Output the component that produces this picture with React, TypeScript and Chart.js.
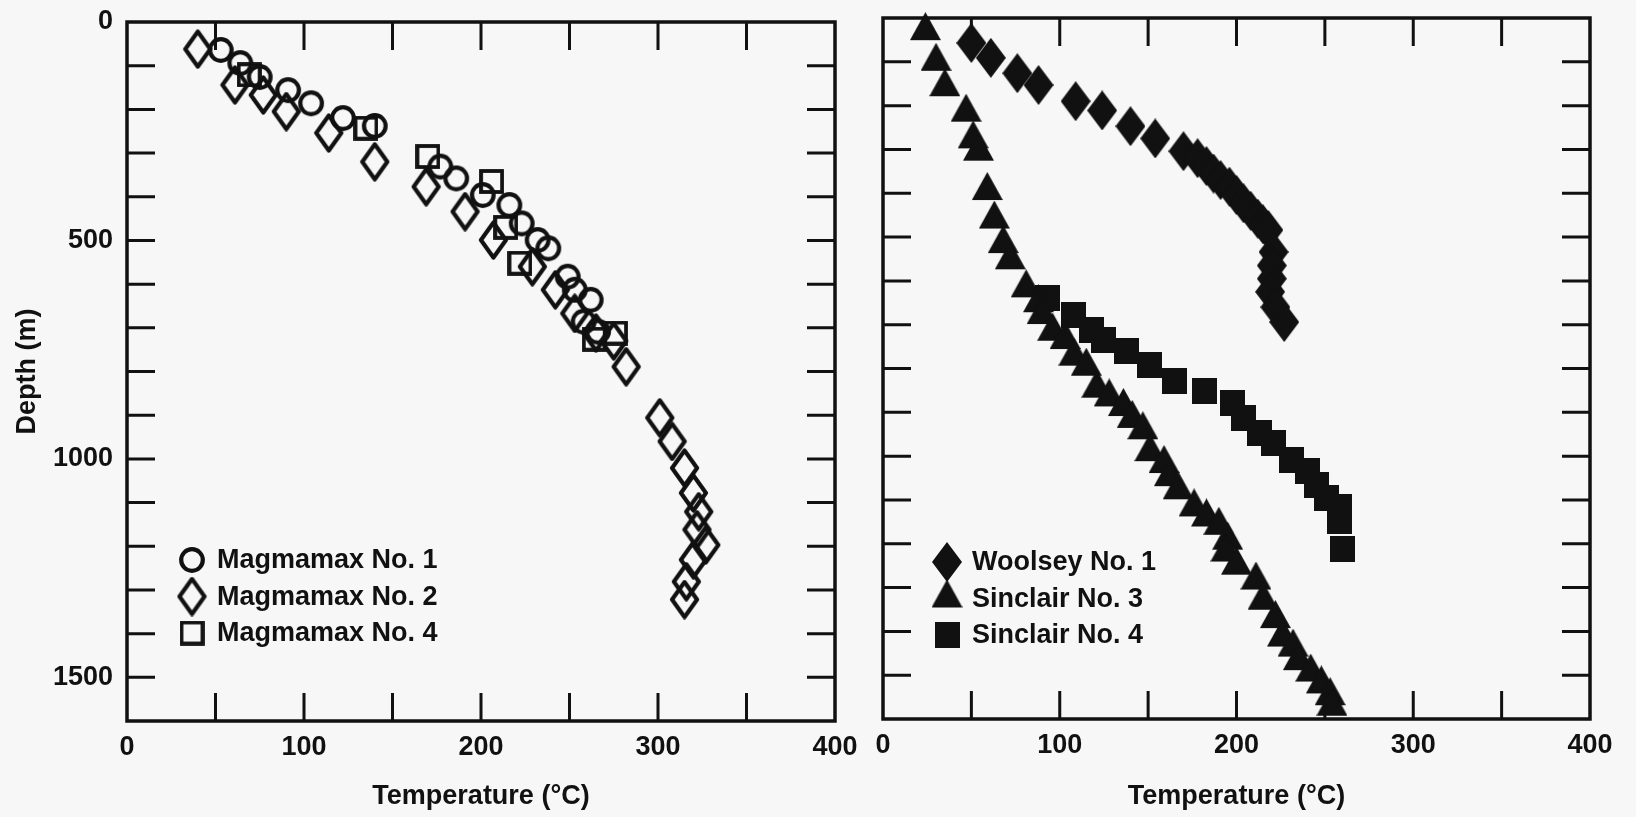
import React, { useEffect, useRef } from "react";
import { Chart, registerables } from "chart.js";

Chart.register(...registerables);

// ---------------- data ----------------
const temperatureTickLabels = [0, 100, 200, 300, 400];
const depthTickLabels = [0, 500, 1000, 1500];
const temperatureTickMarks = [50, 100, 150, 200, 250, 300, 350];
const depthTickMarks = [100, 200, 300, 400, 500, 600, 700, 800, 900, 1000, 1100, 1200, 1300, 1400, 1500];

const magmamax1Temp = [53, 64, 75, 91, 104, 122, 140, 177, 186, 201, 216, 223, 232, 238, 249, 253, 262, 258, 266];
const magmamax1Depth = [64, 94, 126, 156, 186, 220, 238, 331, 358, 396, 419, 461, 499, 518, 583, 613, 636, 686, 709];

const magmamax2Temp = [40, 61, 77, 90, 114, 140, 169, 191, 207, 229, 242, 253, 265, 275, 282, 301, 308, 315, 320, 323, 322, 327, 320, 316, 315];
const magmamax2Depth = [62, 144, 167, 205, 254, 320, 377, 434, 499, 560, 613, 667, 712, 730, 789, 906, 960, 1021, 1078, 1121, 1162, 1197, 1231, 1281, 1322];

const magmamax4Temp = [69, 135, 170, 206, 214, 222, 264, 276];
const magmamax4Depth = [121, 243, 308, 365, 470, 552, 726, 712];

const woolsey1Temp = [50, 61, 76, 88, 109, 124, 140, 154, 170, 178, 183, 187, 191, 196, 200, 204, 208, 212, 215, 218, 221, 220, 220, 219, 222, 227];
const woolsey1Depth = [57, 91, 126, 153, 190, 211, 247, 275, 304, 320, 338, 355, 370, 385, 404, 423, 440, 458, 471, 484, 534, 565, 595, 625, 660, 694];

const sinclair3Temp = [24, 30, 35, 47, 51, 54, 59, 63, 68, 72, 81, 88, 90, 96, 103, 108, 115, 121, 128, 136, 141, 147, 151, 159, 162, 167, 176, 183, 190, 195, 194, 200, 211, 215, 222, 226, 232, 235, 242, 248, 253, 254];
const sinclair3Depth = [30, 100, 158, 216, 277, 305, 395, 460, 516, 553, 617, 651, 678, 716, 735, 773, 796, 846, 866, 888, 915, 941, 991, 1018, 1048, 1078, 1117, 1140, 1159, 1193, 1220, 1250, 1284, 1330, 1372, 1414, 1437, 1468, 1494, 1521, 1548, 1572];

const sinclair4Temp = [93, 108, 118, 125, 138, 151, 165, 182, 198, 204, 213, 221, 231, 240, 245, 251, 258, 258, 260];
const sinclair4Depth = [639, 677, 711, 734, 760, 791, 829, 852, 879, 913, 947, 970, 1008, 1035, 1066, 1095, 1115, 1148, 1211];

const leftLabels = ["Magmamax No. 1", "Magmamax No. 2", "Magmamax No. 4"];
const rightLabels = ["Woolsey No. 1", "Sinclair No. 3", "Sinclair No. 4"];

const xTitle = "Temperature (°C)";
const yTitle = "Depth (m)";

// ---------------- styling ----------------
const INK = "#111111";
const BG = "#f7f7f7";
const FONT = "'Liberation Sans', Arial, Helvetica, sans-serif";

function markerCanvas(w: number, h: number, draw: (ctx: CanvasRenderingContext2D) => void) {
  const c = document.createElement("canvas");
  c.width = w;
  c.height = h;
  const ctx = c.getContext("2d") as CanvasRenderingContext2D;
  ctx.strokeStyle = INK;
  ctx.fillStyle = INK;
  draw(ctx);
  return c;
}

function makeMarkers() {
  const openCircle = markerCanvas(28, 28, (ctx) => {
    ctx.lineWidth = 4.2;
    ctx.beginPath();
    ctx.arc(14, 14, 10.8, 0, Math.PI * 2);
    ctx.stroke();
  });
  const openDiamond = markerCanvas(31, 40, (ctx) => {
    ctx.lineWidth = 4.2;
    ctx.lineJoin = "round";
    ctx.beginPath();
    ctx.moveTo(15.5, 2.5);
    ctx.lineTo(28, 20);
    ctx.lineTo(15.5, 37.5);
    ctx.lineTo(3, 20);
    ctx.closePath();
    ctx.stroke();
  });
  const openSquare = markerCanvas(25, 25, (ctx) => {
    ctx.lineWidth = 3.8;
    ctx.strokeRect(2, 2, 21, 21);
  });
  const filledDiamond = markerCanvas(30, 40, (ctx) => {
    ctx.beginPath();
    ctx.moveTo(15, 0);
    ctx.lineTo(30, 20);
    ctx.lineTo(15, 40);
    ctx.lineTo(0, 20);
    ctx.closePath();
    ctx.fill();
  });
  const filledTriangle = markerCanvas(31, 38, (ctx) => {
    ctx.beginPath();
    ctx.moveTo(15.5, 0);
    ctx.lineTo(31, 28);
    ctx.lineTo(0, 28);
    ctx.closePath();
    ctx.fill();
  });
  const filledSquare = markerCanvas(25, 26, (ctx) => {
    ctx.fillRect(0, 0, 25, 26);
  });
  return { openCircle, openDiamond, openSquare, filledDiamond, filledTriangle, filledSquare };
}

const framePlugin = {
  id: "frameTicks",
  afterDatasetsDraw(chart: any, _args: any, opts: any) {
    const { ctx, chartArea } = chart;
    const { left, right, top, bottom } = chartArea;
    const xs = chart.scales.x;
    const ys = chart.scales.y;
    const len = opts.length || 28;
    ctx.save();
    ctx.strokeStyle = INK;
    ctx.lineWidth = 3.5;
    ctx.lineCap = "square";
    ctx.strokeRect(left, top, right - left, bottom - top);
    ctx.lineWidth = 3;
    ctx.lineCap = "butt";
    ctx.beginPath();
    for (const v of temperatureTickMarks) {
      const px = xs.getPixelForValue(v);
      ctx.moveTo(px, top);
      ctx.lineTo(px, top + len);
      ctx.moveTo(px, bottom);
      ctx.lineTo(px, bottom - len);
    }
    for (const v of depthTickMarks) {
      const py = ys.getPixelForValue(v);
      ctx.moveTo(left, py);
      ctx.lineTo(left + len, py);
      ctx.moveTo(right, py);
      ctx.lineTo(right - len, py);
    }
    ctx.stroke();
    ctx.restore();
  },
};

const insetLegendPlugin = {
  id: "insetLegend",
  afterDraw(chart: any, _args: any, opts: any) {
    const { ctx } = chart;
    ctx.save();
    ctx.fillStyle = INK;
    ctx.font = `bold 27px ${FONT}`;
    ctx.textAlign = "left";
    ctx.textBaseline = "middle";
    chart.data.datasets.forEach((ds: any, i: number) => {
      const cy = opts.y + i * opts.rowHeight;
      const img = ds.pointStyle as HTMLCanvasElement;
      ctx.drawImage(img, opts.x - img.width / 2, cy - img.height / 2);
      ctx.fillText(ds.label, opts.x + opts.textOffset, cy + 1);
    });
    ctx.restore();
  },
};

function pairs(xs: number[], ys: number[]) {
  return xs.map((x, i) => ({ x, y: ys[i] }));
}

function zeroPadding(s: any) {
  s.paddingTop = 0;
  s.paddingBottom = 0;
  s.paddingLeft = 0;
  s.paddingRight = 0;
}

function buildConfig(
  datasets: any[],
  geom: { padTop: number; padRight: number; yWidth: number; xHeight: number; showY: boolean },
  legend: { x: number; y: number; rowHeight: number; textOffset: number }
): any {
  return {
    type: "scatter",
    data: { datasets },
    plugins: [framePlugin, insetLegendPlugin],
    options: {
      responsive: false,
      animation: false,
      events: [],
      layout: { padding: { top: geom.padTop, right: geom.padRight, left: 0, bottom: 0 } },
      plugins: {
        legend: { display: false },
        tooltip: { enabled: false },
        frameTicks: { length: 28 },
        insetLegend: legend,
      },
      scales: {
        x: {
          type: "linear",
          position: "bottom",
          min: 0,
          max: 400,
          afterBuildTicks: (s: any) => {
            s.ticks = temperatureTickLabels.map((v) => ({ value: v }));
          },
          afterFit: (s: any) => {
            s.height = geom.xHeight;
            zeroPadding(s);
          },
          grid: { display: false, drawTicks: false },
          border: { display: false },
          ticks: {
            color: INK,
            padding: 10,
            maxRotation: 0,
            autoSkip: false,
            callback: (v: any) => String(v),
            font: { family: FONT, size: 27, weight: "bold" },
          },
          title: {
            display: true,
            text: xTitle,
            color: INK,
            padding: { top: 0, bottom: 4 },
            font: { family: FONT, size: 27, weight: "bold" },
          },
        },
        y: {
          type: "linear",
          position: "left",
          min: 0,
          max: 1600,
          reverse: true,
          afterBuildTicks: (s: any) => {
            s.ticks = depthTickLabels.map((v) => ({ value: v }));
          },
          afterFit: (s: any) => {
            s.width = geom.yWidth;
            zeroPadding(s);
          },
          grid: { display: false, drawTicks: false },
          border: { display: false },
          ticks: {
            display: geom.showY,
            color: INK,
            padding: 14,
            autoSkip: false,
            callback: (v: any) => String(v),
            font: { family: FONT, size: 27, weight: "bold" },
          },
          title: {
            display: geom.showY,
            text: yTitle,
            color: INK,
            padding: { top: 11, bottom: 0 },
            font: { family: FONT, size: 27, weight: "bold" },
          },
        },
      },
    },
  };
}

function dataset(label: string, temps: number[], depths: number[], style: HTMLCanvasElement) {
  return {
    label,
    data: pairs(temps, depths),
    pointStyle: style,
    pointRadius: 10,
    showLine: false,
    clip: false,
    backgroundColor: INK,
    borderColor: INK,
  };
}

export default function App() {
  const leftRef = useRef<HTMLCanvasElement | null>(null);
  const rightRef = useRef<HTMLCanvasElement | null>(null);

  useEffect(() => {
    const m = makeMarkers();
    const left = new Chart(
      leftRef.current as HTMLCanvasElement,
      buildConfig(
        [
          dataset(leftLabels[0], magmamax1Temp, magmamax1Depth, m.openCircle),
          dataset(leftLabels[1], magmamax2Temp, magmamax2Depth, m.openDiamond),
          dataset(leftLabels[2], magmamax4Temp, magmamax4Depth, m.openSquare),
        ],
        { padTop: 22, padRight: 25, yWidth: 127, xHeight: 96, showY: true },
        { x: 192, y: 560, rowHeight: 36.5, textOffset: 25 }
      )
    );
    const right = new Chart(
      rightRef.current as HTMLCanvasElement,
      buildConfig(
        [
          dataset(rightLabels[0], woolsey1Temp, woolsey1Depth, m.filledDiamond),
          dataset(rightLabels[1], sinclair3Temp, sinclair3Depth, m.filledTriangle),
          dataset(rightLabels[2], sinclair4Temp, sinclair4Depth, m.filledSquare),
        ],
        { padTop: 18, padRight: 46, yWidth: 23, xHeight: 98, showY: false },
        { x: 87, y: 562, rowHeight: 36.5, textOffset: 25 }
      )
    );
    return () => {
      left.destroy();
      right.destroy();
    };
  }, []);

  return (
    <div
      style={{
        position: "fixed",
        left: 0,
        top: 0,
        width: 1636,
        height: 817,
        background: BG,
        overflow: "hidden",
      }}
    >
      <canvas
        ref={leftRef}
        width={860}
        height={817}
        style={{ position: "absolute", left: 0, top: 0, width: 860, height: 817 }}
      />
      <canvas
        ref={rightRef}
        width={776}
        height={817}
        style={{ position: "absolute", left: 860, top: 0, width: 776, height: 817 }}
      />
    </div>
  );
}
